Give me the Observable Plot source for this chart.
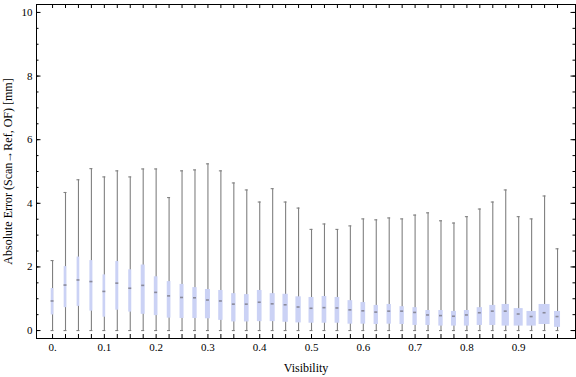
<!DOCTYPE html>
<html><head><meta charset="utf-8">
<script src="https://cdn.jsdelivr.net/npm/d3@7"></script>
<script src="https://cdn.jsdelivr.net/npm/@observablehq/plot@0.6"></script>
<style>body{margin:0;background:#fff;}</style>
</head><body><div id="chart"></div>
<script>
// Bin centres (Visibility)
const visibility = [0,0.025,0.05,0.075,0.1,0.125,0.15,0.175,0.2,0.225,0.25,0.275,0.3,0.325,0.35,0.375,0.4,0.425,0.45,0.475,0.5,0.525,0.55,0.575,0.6,0.625,0.65,0.675,0.7,0.725,0.75,0.775,0.8,0.825,0.85,0.875,0.9,0.925,0.95,0.975];
// Whisker minimum / maximum [mm]
const minErr = [0,0,0,0,0,0,0,0,0,0,0,0,0,0,0,0,0,0,0,0,0,0,0,0,0,0,0,0,0,0,0,0,0,0,0,0,0,0,0,0];
const maxErr = [2.20,4.34,4.74,5.09,4.83,5.02,4.83,5.08,5.08,4.18,5.02,5.05,5.24,5.02,4.64,4.42,4.04,4.46,4.04,3.85,3.18,3.35,3.18,3.29,3.51,3.48,3.54,3.51,3.63,3.70,3.45,3.38,3.58,3.82,4.04,4.42,3.58,3.51,4.23,2.57];
// Quartiles and median [mm]
const q1 = [0.49,0.72,0.76,0.61,0.42,0.64,0.58,0.51,0.47,0.39,0.38,0.38,0.37,0.32,0.27,0.27,0.28,0.28,0.26,0.24,0.23,0.23,0.23,0.20,0.20,0.19,0.20,0.19,0.16,0.16,0.14,0.14,0.14,0.16,0.16,0.14,0.14,0.14,0.19,0.10];
const median = [0.93,1.43,1.59,1.54,1.23,1.49,1.33,1.42,1.20,1.09,1.04,1.03,0.96,0.93,0.83,0.83,0.89,0.84,0.81,0.74,0.70,0.72,0.71,0.65,0.62,0.58,0.61,0.61,0.57,0.49,0.47,0.45,0.49,0.56,0.61,0.61,0.52,0.44,0.56,0.44];
const q3 = [1.32,2.01,2.31,2.20,1.75,2.17,1.91,2.06,1.69,1.54,1.45,1.35,1.29,1.26,1.16,1.13,1.26,1.16,1.14,1.06,1.04,1.07,1.04,0.94,0.88,0.79,0.82,0.75,0.72,0.63,0.63,0.60,0.63,0.72,0.79,0.82,0.69,0.60,0.82,0.60];
// Relative bin weight (drives box width)
const binWeight = [8,8,8,9,8,9,9,12,11,11,12,13,15,13,13,14,14,15,16,16,15,14,14,14,14,13,13,13,13,13,13,15,15,16,18,22,27,28,33,18];
// Tick labels
const xLabelTicks = [0,0.1,0.2,0.3,0.4,0.5,0.6,0.7,0.8,0.9];
const yLabelTicks = [0,2,4,6,8,10];
const yMinorTicks = [0,0.5,1,1.5,2,2.5,3,3.5,4,4.5,5,5.5,6,6.5,7,7.5,8,8.5,9,9.5,10];

const W = 576, H = 377, mL = 36, mR = 1, mT = 4, mB = 39;
const plotW = W - mL - mR, plotH = H - mT - mB;
const xDomain = [-0.031, 1.0097], yDomain = [-0.25, 10.25];
const pxPerX = plotW / (xDomain[1] - xDomain[0]);
const px = p => p / pxPerX;

const rows = visibility.map((v, i) => ({
  x: v, min: minErr[i], max: maxErr[i], q1: q1[i], med: median[i], q3: q3[i],
  half: px(binWeight[i] / 6)
}));

const chart = Plot.plot({
  width: W, height: H,
  marginLeft: mL, marginRight: mR, marginTop: mT, marginBottom: mB,
  style: {fontFamily: "Liberation Serif, Times New Roman, serif", fontSize: "11px", background: "#fff", color: "#000"},
  x: {domain: xDomain, axis: null},
  y: {domain: yDomain, axis: null},
  marks: [
    Plot.ruleX(rows, {x: "x", y1: "min", y2: "max", stroke: "#808080", strokeWidth: 1.1}),
    Plot.ruleY(rows, {x1: d => d.x - px(1.5), x2: d => d.x + px(1.5), y: "max", stroke: "#808080", strokeWidth: 1.1}),
    Plot.ruleY(rows, {x1: d => d.x - px(1.5), x2: d => d.x + px(1.5), y: "min", stroke: "#808080", strokeWidth: 1.1}),
    Plot.rect(rows, {x1: d => d.x - d.half, x2: d => d.x + d.half, y1: "q1", y2: "q3", fill: "#cbd2f5"}),
    Plot.ruleY(rows, {x1: d => d.x - px(1.5), x2: d => d.x + px(1.5), y: "med", stroke: "#8a8a9a", strokeWidth: 1.6}),
    Plot.frame({stroke: "#000", strokeWidth: 1}),
    // inward ticks
    Plot.ruleX(visibility, {x: d => d, insetTop: plotH - 4, stroke: "#000"}),
    Plot.ruleX(visibility, {x: d => d, insetBottom: plotH - 4, stroke: "#000"}),
    Plot.ruleY(yLabelTicks, {y: d => d, insetRight: plotW - 4.5, stroke: "#000"}),
    Plot.ruleY(yMinorTicks, {y: d => d, insetRight: plotW - 2.5, stroke: "#000"}),
    Plot.ruleY(yLabelTicks, {y: d => d, insetLeft: plotW - 4.5, stroke: "#000"}),
    Plot.ruleY(yMinorTicks, {y: d => d, insetLeft: plotW - 2.5, stroke: "#000"}),
    Plot.axisX(xLabelTicks, {tickSize: 0, tickPadding: 5, tickFormat: d => d === 0 ? "0." : d.toFixed(1), label: null, fontSize: 11}),
    Plot.axisY(yLabelTicks, {tickSize: 0, tickPadding: 4, tickFormat: d => String(d), label: null, fontSize: 11}),
    Plot.text(["Visibility"], {text: d => d, frameAnchor: "bottom", lineAnchor: "middle", textAnchor: "middle", dy: 30, fontSize: 12}),
    Plot.text(["Absolute Error (Scan\u2192Ref, OF) [mm]"], {text: d => d, frameAnchor: "left", textAnchor: "middle", lineAnchor: "middle", dx: -28, rotate: -90, fontSize: 12})
  ]
});
document.getElementById("chart").appendChild(chart);
</script>
</body></html>
